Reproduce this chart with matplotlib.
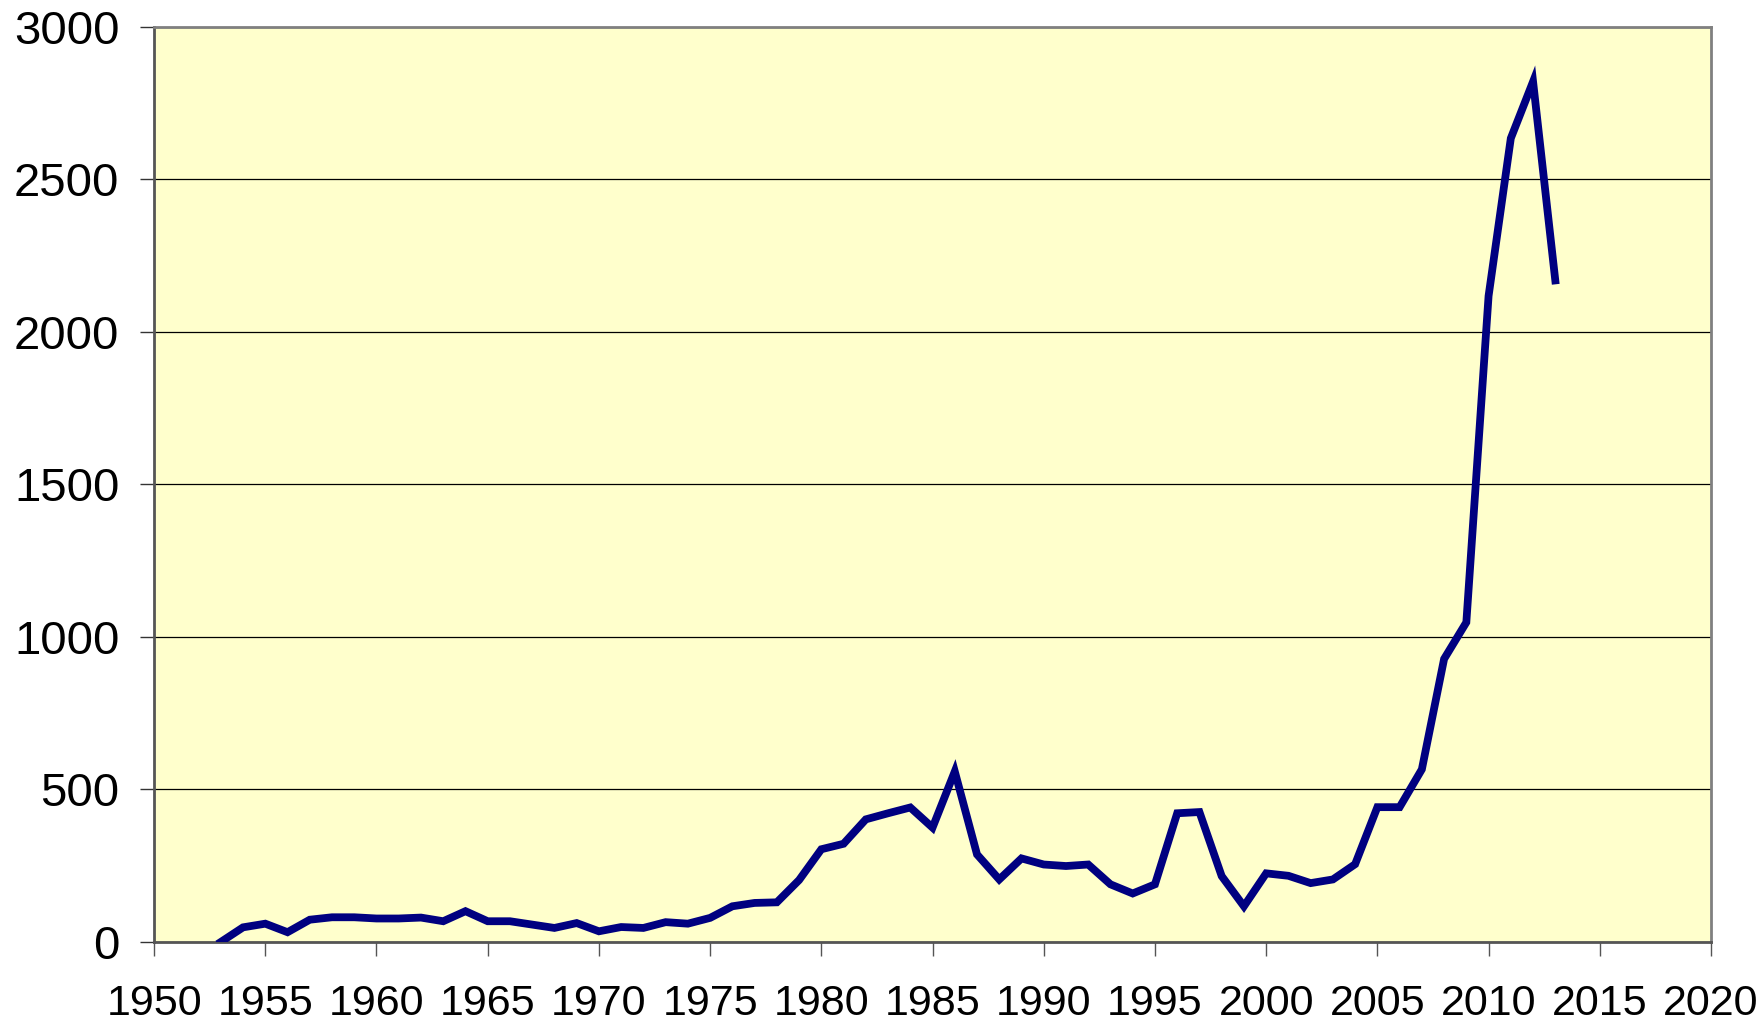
import matplotlib
matplotlib.use("Agg")
import matplotlib.pyplot as plt

# yearly values
years = list(range(1953, 2014))
values = [0, 48, 60, 32, 73, 81, 81, 77, 77, 80,          # 1953-1962
          68, 101, 68, 68, 57, 46, 62, 35, 49, 46,         # 1963-1972
          65, 60, 79, 117, 128, 130, 203, 304, 322, 402,   # 1973-1982
          422, 441, 375, 559, 287, 205, 274, 254, 249, 254, # 1983-1992
          189, 159, 189, 422, 426, 216, 117, 225, 217, 193, # 1993-2002
          205, 255, 442, 442, 566, 928, 1048, 2118, 2635, 2821, # 2003-2012
          2169]                                            # 2013

xticks = list(range(1950, 2021, 5))
yticks = list(range(0, 3001, 500))

plt.rcParams['font.family'] = ['Liberation Sans', 'DejaVu Sans']

fig = plt.figure(figsize=(17.65, 10.25), dpi=100)
ax = fig.add_axes([0.0873, 0.081, 0.9694 - 0.0873, 0.9737 - 0.081])
ax.set_facecolor('#FFFFCC')

ax.plot(years, values, color='#000080', linewidth=5.6, solid_joinstyle='miter', zorder=3)

ax.set_xlim(1950, 2020)
ax.set_ylim(0, 3000)
ax.set_xticks(xticks)
ax.set_yticks(yticks)
ax.yaxis.grid(True, color='black', linewidth=0.9)
ax.set_axisbelow(True)

for s in ax.spines.values():
    s.set_color('#808080')
    s.set_linewidth(2)
ax.spines['left'].set_color('#555555')
ax.spines['bottom'].set_color('#555555')

ax.tick_params(axis='x', direction='out', length=10, width=1, color='#555555', pad=20, labelsize=31)
ax.tick_params(axis='y', direction='out', length=10, width=1, color='#333333', pad=15, labelsize=34)

fig.savefig('out.png', dpi=100, facecolor='white')
